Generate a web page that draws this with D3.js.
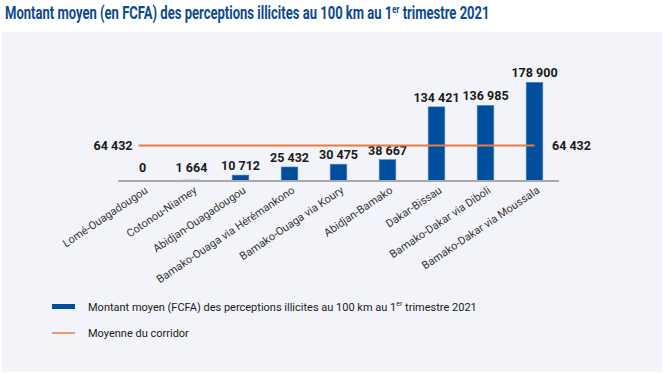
<!DOCTYPE html>
<html><head><meta charset="utf-8">
<script src="https://cdn.jsdelivr.net/npm/d3@7"></script>
<style>body{margin:0;background:#fff;font-family:Roboto,"Liberation Sans",sans-serif}</style>
</head><body><svg id="c" width="664" height="373"></svg>
<script>
const categories = ["Lomé-Ouagadougou","Cotonou-Niamey","Abidjan-Ouagadougou","Bamako-Ouaga via Hérémankono","Bamako-Ouaga via Koury","Abidjan-Bamako","Dakar-Bissau","Bamako-Dakar via Diboli","Bamako-Dakar via Moussala"];
const values = [0,1664,10712,25432,30475,38667,134421,136985,178900];
const meanValue = 64432;
const fmt = v => d3.format(",")(v).replace(/,/g," ");

const svg = d3.select("#c");
svg.append("rect").attr("x",2).attr("y",32).attr("width",660).attr("height",340).attr("fill","#f3f4f9");

const title = svg.append("text").attr("transform","translate(5,19) scale(0.745,1)").attr("fill","#0d4a8c")
  .attr("font-size",17.5).attr("font-weight","bold");
title.append("tspan").text("Montant moyen (en FCFA) des perceptions illicites au 100 km au 1");
title.append("tspan").text("er").attr("font-size",10.5).attr("dy",-6.5);
title.append("tspan").text(" trimestre 2021").attr("dy",6.5);

const x = d3.scaleBand().domain(categories).range([118,559]).paddingInner(0.66).paddingOuter(0.33);
const y = d3.scaleLinear().domain([0,178900]).range([181,82.3]);

svg.append("g").selectAll("rect").data(values).join("rect")
  .attr("x",(d,i)=>x(categories[i])).attr("width",x.bandwidth())
  .attr("y",d=>y(d)).attr("height",d=>y(0)-y(d)).attr("fill","#004f9f")
  .attr("stroke","#5b86bf").attr("stroke-width",0.6);

svg.append("g").selectAll("text").data(values).join("text")
  .attr("x",(d,i)=>x(categories[i])+x.bandwidth()/2).attr("y",d=>Math.min(y(d), y(0)-4.5)-5)
  .attr("text-anchor","middle").attr("font-size",12.5).attr("font-weight","bold").attr("fill","#1a1a1a")
  .text(fmt);

const axis = svg.append("g").attr("transform",`translate(0,${y(0)})`)
  .call(d3.axisBottom(x).tickSize(0).tickPadding(0));
axis.select(".domain").attr("stroke","#a8a8b0").attr("stroke-width",2).attr("d","M118,0H559");
axis.selectAll(".tick text").attr("font-size",11).attr("fill","#333").attr("font-family","Roboto, sans-serif")
  .attr("text-anchor","end").attr("dy",0)
  .attr("transform","translate(6,11) rotate(-34)");

const cx0 = x(categories[0])+x.bandwidth()/2 - 4, cx1 = x(categories[categories.length-1])+x.bandwidth()/2;
svg.append("line").attr("x1",cx0).attr("x2",cx1).attr("y1",y(meanValue)).attr("y2",y(meanValue))
  .attr("stroke","#ec7a3c").attr("stroke-width",2);
svg.append("text").attr("x",cx0-6).attr("y",y(meanValue)+4.5).attr("text-anchor","end")
  .attr("font-size",12.5).attr("font-weight","bold").attr("fill","#1a1a1a").text(fmt(meanValue));
svg.append("text").attr("x",552).attr("y",y(meanValue)+4.5)
  .attr("font-size",12.5).attr("font-weight","bold").attr("fill","#1a1a1a").text(fmt(meanValue));

// legend
svg.append("rect").attr("x",52).attr("y",304).attr("width",23).attr("height",5).attr("fill","#004f9f");
const l1 = svg.append("text").attr("x",88).attr("y",310.5).attr("font-size",11).attr("fill","#1a1a1a");
l1.append("tspan").text("Montant moyen (FCFA) des perceptions illicites au 100 km au 1");
l1.append("tspan").text("er").attr("font-size",7).attr("dy",-4.5);
l1.append("tspan").text(" trimestre 2021").attr("dy",4.5);
svg.append("line").attr("x1",52).attr("x2",75).attr("y1",333).attr("y2",333).attr("stroke","#ec7a3c").attr("stroke-width",1.5);
svg.append("text").attr("x",88).attr("y",337).attr("font-size",11).attr("fill","#1a1a1a").text("Moyenne du corridor");
</script></body></html>
